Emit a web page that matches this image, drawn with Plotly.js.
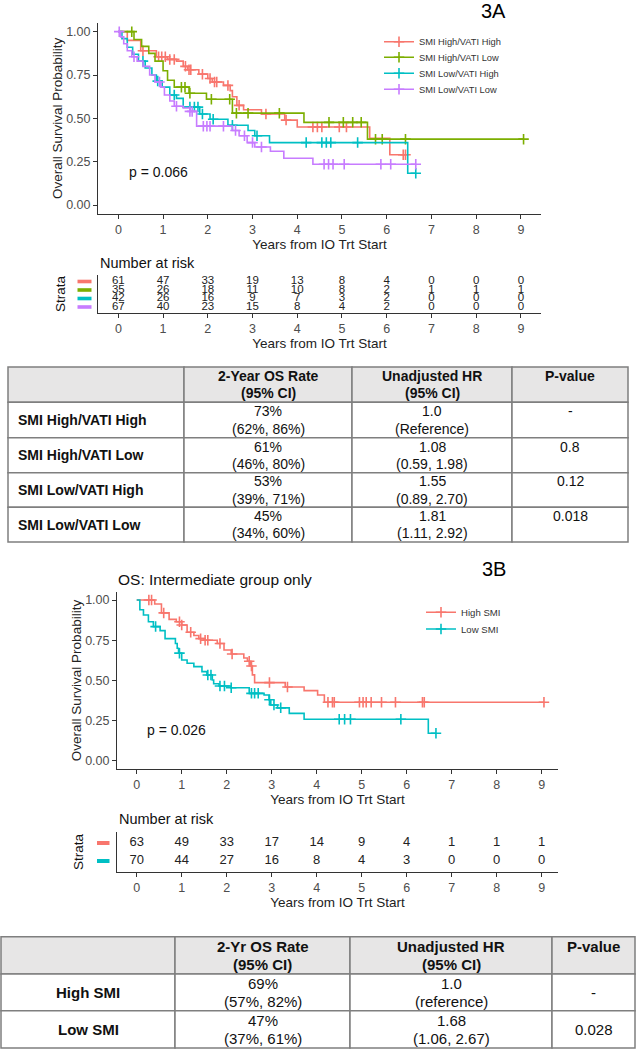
<!DOCTYPE html>
<html><head><meta charset="utf-8">
<script src="https://cdn.plot.ly/plotly-3.0.1.min.js"></script>
<style>html,body{margin:0;padding:0;background:#fff}</style>
</head><body>
<div id="chart" style="width:636px;height:1050px"></div>
<script>
// ---------------- DATA ----------------
// Figure 3A: Kaplan-Meier step curves (time in years, survival after step) + censor times
const groupsA = ['SMI High/VATI High','SMI High/VATI Low','SMI Low/VATI High','SMI Low/VATI Low'];
const colorsA = ['#F8766D','#7CAE00','#00BFC4','#C77CFF'];

const hhTime = [0,0.2,0.5,0.85,1.1,1.3,1.45,1.55,1.8,2.0,2.1,2.35,2.5,2.55,2.65,2.8,3.2,3.72,4.0,5.62,6.07];
const hhSurv = [1,0.95,0.89,0.855,0.84,0.83,0.80,0.78,0.755,0.73,0.71,0.69,0.66,0.625,0.575,0.55,0.525,0.49,0.45,0.385,0.29];
const hhCens = [0.55,0.9,0.97,1.05,1.15,1.25,1.5,1.58,1.62,1.88,2.05,2.15,2.2,2.45,2.7,3.3,3.75,4.35,4.45,4.55,4.94,5.1,6.37,6.42];

const hlTime = [0,0.35,0.52,0.68,0.82,1.0,1.1,1.25,1.58,1.97,2.55,4.15,5.57];
const hlSurv = [1,0.955,0.915,0.875,0.83,0.775,0.72,0.68,0.645,0.61,0.53,0.477,0.38];
const hlCens = [0.3,1.41,1.49,1.6,2.08,2.49,2.64,2.9,3.6,4.71,5.03,5.24,5.43,5.75,5.9,6.42,9.06];

const lhTime = [0,0.08,0.2,0.32,0.45,0.6,0.75,0.85,0.98,1.15,1.3,1.45,1.82,2.05,2.45,2.9,3.05,3.38,6.47];
const lhSurv = [1,0.96,0.91,0.87,0.83,0.79,0.75,0.715,0.68,0.635,0.615,0.565,0.525,0.495,0.46,0.43,0.40,0.36,0.183];
const lhCens = [0.55,0.88,1.25,1.6,1.7,1.78,1.88,2.12,2.55,3.1,4.2,4.55,4.65,4.75,5.35,6.65];

const llTime = [0,0.05,0.12,0.2,0.3,0.42,0.55,0.7,0.82,0.95,1.03,1.15,1.25,1.45,1.6,1.75,2.55,2.7,2.88,3.05,3.4,3.7,4.35];
const llSurv = [1,0.97,0.93,0.89,0.855,0.83,0.80,0.75,0.71,0.68,0.635,0.60,0.57,0.56,0.54,0.455,0.43,0.40,0.36,0.335,0.31,0.27,0.235];
const llCens = [0.02,0.35,0.92,1.3,1.6,1.65,1.9,1.98,2.05,2.35,2.62,2.82,3.0,3.2,4.6,4.7,4.8,5.05,5.87,6.09,6.65];

// Figure 3B
const groupsB = ['High SMI','Low SMI'];
const colorsB = ['#F8766D','#00BFC4'];
const hiTime = [0,0.4,0.55,0.72,0.88,1.0,1.12,1.27,1.38,1.5,1.79,1.94,2.1,2.38,2.46,2.53,2.57,2.62,3.3,3.72,4.02,4.17];
const hiSurv = [1,0.975,0.92,0.88,0.865,0.845,0.80,0.78,0.76,0.75,0.73,0.69,0.665,0.64,0.62,0.59,0.535,0.487,0.46,0.437,0.41,0.365];
const hiCens = [0.27,0.33,0.6,0.95,1.0,1.2,1.42,1.52,1.58,1.85,2.12,2.5,2.55,2.95,3.35,4.25,4.35,4.39,4.95,5.03,5.1,5.21,5.44,5.75,6.35,6.39,9.05];
const loTime = [0,0.07,0.15,0.26,0.37,0.52,0.63,0.86,0.9,0.93,1.0,1.12,1.27,1.45,1.56,1.68,1.71,1.83,2.09,2.5,2.83,2.94,2.98,3.13,3.39,3.72,6.48];
const loSurv = [1,0.94,0.907,0.865,0.835,0.81,0.76,0.73,0.70,0.67,0.627,0.607,0.586,0.555,0.534,0.503,0.48,0.466,0.455,0.42,0.41,0.38,0.348,0.33,0.296,0.259,0.172];
const loCens = [0.42,0.95,1.58,1.65,1.85,1.95,2.1,2.55,2.62,2.7,2.95,3.05,3.2,4.5,4.62,4.75,5.87,6.65];

// p-values
const pA = 'p = 0.066';
const pB = 'p = 0.026';

// Number at risk
const riskTimes = [0,1,2,3,4,5,6,7,8,9];
const riskHH = [61,47,33,19,13,8,4,0,0,0];
const riskHL = [35,26,18,11,10,8,2,1,1,1];
const riskLH = [42,26,16,9,7,3,2,0,0,0];
const riskLL = [67,40,23,15,8,4,2,0,0,0];
const riskHi = [63,49,33,17,14,9,4,1,1,1];
const riskLo = [70,44,27,16,8,4,3,0,0,0];

// Tick labels
const xTicks = [0,1,2,3,4,5,6,7,8,9];
const yTicks = [0,0.25,0.5,0.75,1];
const yTickText = ['0.00','0.25','0.50','0.75','1.00'];

// Table 1
const t1Head = [['2-Year OS Rate','(95% CI)'],['Unadjusted HR','(95% CI)'],['P-value','']];
const t1Rate = ['73%','61%','53%','45%'];
const t1RateCI = ['(62%, 86%)','(46%, 80%)','(39%, 71%)','(34%, 60%)'];
const t1HR = ['1.0','1.08','1.55','1.81'];
const t1HRCI = ['(Reference)','(0.59, 1.98)','(0.89, 2.70)','(1.11, 2.92)'];
const t1P = ['-','0.8','0.12','0.018'];

// Table 2
const t2Head = [['2-Yr OS Rate','(95% CI)'],['Unadjusted HR','(95% CI)'],['P-value','']];
const t2Rate = ['69%','47%'];
const t2RateCI = ['(57%, 82%)','(37%, 61%)'];
const t2HR = ['1.0','1.68'];
const t2HRCI = ['(reference)','(1.06, 2.67)'];
const t2P = ['-','0.028'];

// ---------------- LAYOUT HELPERS ----------------
const W = 636, H = 1050;
const px = v => v / W;
const py = v => 1 - v / H;
const FONT = 'Arial, "Liberation Sans", sans-serif';
const AX = '#333333';

// risk-table geometry (pixel rows of the strata)
const riskA = {top: 275, bottom: 313, row0: 281.5, step: 8.5};
const riskB = {top: 832, bottom: 872, row0: 843, step: 18};
const rangeFor = g => [1 + (g.bottom - g.row0) / g.step, 1 - (g.row0 - g.top) / g.step];

function survAt(times, surv, t) {
  let s = surv[0];
  for (let i = 0; i < times.length; i++) { if (times[i] <= t) s = surv[i]; }
  return s;
}

const traces = [];
function addKM(times, surv, cens, color, name, xa, ya, legendId) {
  const end = Math.max(times[times.length - 1], ...cens);
  traces.push({x: times.concat([end]), y: surv.concat([surv[surv.length - 1]]), type: 'scatter', mode: 'lines',
    line: {color: color, width: 1.6, shape: 'hv'}, xaxis: xa, yaxis: ya, showlegend: false, hoverinfo: 'skip'});
  traces.push({x: cens, y: cens.map(t => survAt(times, surv, t)), type: 'scatter', mode: 'markers',
    marker: {symbol: 'cross-thin', size: 7.5, color: color, line: {width: 1.6, color: color}},
    xaxis: xa, yaxis: ya, showlegend: false, cliponaxis: false, hoverinfo: 'skip'});
  traces.push({x: [null], y: [null], type: 'scatter', mode: 'lines+markers', name: name,
    line: {color: color, width: 1.6}, marker: {symbol: 'cross-thin', size: 7.5, color: color, line: {width: 1.6, color: color}},
    xaxis: xa, yaxis: ya, legend: legendId, showlegend: true});
}

addKM(hhTime, hhSurv, hhCens, colorsA[0], groupsA[0], 'x', 'y', 'legend');
addKM(hlTime, hlSurv, hlCens, colorsA[1], groupsA[1], 'x', 'y', 'legend2');
addKM(lhTime, lhSurv, lhCens, colorsA[2], groupsA[2], 'x', 'y', 'legend3');
addKM(llTime, llSurv, llCens, colorsA[3], groupsA[3], 'x', 'y', 'legend4');
addKM(hiTime, hiSurv, hiCens, colorsB[0], groupsB[0], 'x3', 'y3', 'legend5');
addKM(loTime, loSurv, loCens, colorsB[1], groupsB[1], 'x3', 'y3', 'legend6');

// risk tables
function addRisk(vals, row, xa, ya, size) {
  traces.push({x: riskTimes, y: riskTimes.map(() => row), text: vals.map(String), type: 'scatter', mode: 'text',
    textposition: 'middle center', textfont: {family: FONT, size: size, color: '#222'},
    xaxis: xa, yaxis: ya, showlegend: false, cliponaxis: false, hoverinfo: 'skip'});
}
[riskHH, riskHL, riskLH, riskLL].forEach((v, i) => addRisk(v, i + 1, 'x2', 'y2', 11.5));
[riskHi, riskLo].forEach((v, i) => addRisk(v, i + 1, 'x4', 'y4', 13));

// ---------------- AXES ----------------
function xAxis(d0, d1, range, anchor, title) {
  return {domain: [px(d0), px(d1)], range: range, anchor: anchor, showline: true, linecolor: AX, linewidth: 1,
    ticks: 'outside', ticklen: 4, tickcolor: AX, tickwidth: 1, tickvals: xTicks,
    tickfont: {family: FONT, size: 12.5, color: '#4d4d4d'}, showgrid: false, zeroline: false,
    title: {text: title, font: {family: FONT, size: 13.5, color: '#222'}, standoff: 0}, automargin: false, fixedrange: true};
}
function yAxisKM(top, bottom, anchor) {
  return {domain: [py(bottom), py(top)], range: [-0.05, 1.05], anchor: anchor, showline: true, linecolor: AX, linewidth: 1,
    ticks: 'outside', ticklen: 4, tickcolor: AX, tickwidth: 1, tickvals: yTicks, ticktext: yTickText,
    tickfont: {family: FONT, size: 12.5, color: '#4d4d4d'}, showgrid: false, zeroline: false,
    title: {text: 'Overall Survival Probability', font: {family: FONT, size: 13.5, color: '#222'}, standoff: 0},
    automargin: false, fixedrange: true};
}
function yAxisRisk(g, anchor) {
  return {domain: [py(g.bottom), py(g.top)], range: rangeFor(g), anchor: anchor, showline: true, linecolor: AX, linewidth: 1,
    ticks: '', showticklabels: false, showgrid: false, zeroline: false, automargin: false, fixedrange: true};
}

// ---------------- SHAPES & ANNOTATIONS ----------------
const shapes = [];
const annotations = [];

// strata colour bars (paper coordinates, aligned with risk-table rows)
colorsA.forEach((c, i) => {
  const yc = riskA.row0 + i * riskA.step;
  shapes.push({type: 'rect', xref: 'paper', yref: 'paper', x0: px(77.5), x1: px(91.5), y0: py(yc + 1.8), y1: py(yc - 1.8),
    fillcolor: c, line: {width: 0}});
});
colorsB.forEach((c, i) => {
  const yc = riskB.row0 + i * riskB.step;
  shapes.push({type: 'rect', xref: 'paper', yref: 'paper', x0: px(97), x1: px(109.5), y0: py(yc + 2), y1: py(yc - 2),
    fillcolor: c, line: {width: 0}});
});

function ann(text, x, y, size, opts) {
  annotations.push(Object.assign({text: text, x: px(x), y: py(y), xref: 'paper', yref: 'paper', showarrow: false,
    xanchor: 'center', yanchor: 'middle', font: {family: FONT, size: size, color: '#111'}}, opts || {}));
}

// panel labels
ann('3A', 493, 11, 20, {font: {family: FONT, size: 20, color: '#000'}});
ann('3B', 494, 569, 20, {font: {family: FONT, size: 20, color: '#000'}});
ann('OS: Intermediate group only', 116, 579, 15.5, {xanchor: 'left', font: {family: FONT, size: 15.5, color: '#111'}});

// p-values
annotations.push({text: pA, x: 0.19, y: 0.19, xref: 'x', yref: 'y', xanchor: 'left', yanchor: 'middle', showarrow: false,
  font: {family: FONT, size: 14, color: '#111'}});
annotations.push({text: pB, x: 0.18, y: 0.19, xref: 'x3', yref: 'y3', xanchor: 'left', yanchor: 'middle', showarrow: false,
  font: {family: FONT, size: 14, color: '#111'}});

// risk-table labels
ann('Number at risk', 98, 263, 14.5, {xanchor: 'left'});
ann('Strata', 60, 294, 13.5, {textangle: -90});
ann('Number at risk', 117, 819, 14.5, {xanchor: 'left'});
ann('Strata', 78, 852, 13.5, {textangle: -90});

// tables
function drawTable(cols, rows, head, firstCol, body, p, size, firstAlign, pCentered, lineGap) {
  for (let r = 0; r < rows.length - 1; r++) {
    for (let c = 0; c < cols.length - 1; c++) {
      shapes.push({type: 'rect', xref: 'paper', yref: 'paper', x0: px(cols[c]), x1: px(cols[c + 1]),
        y0: py(rows[r + 1]), y1: py(rows[r]), fillcolor: r === 0 ? '#e7e6e6' : '#ffffff',
        line: {color: '#7f7f7f', width: 1.5}, layer: 'below'});
    }
  }
  const cx = c => (cols[c] + cols[c + 1]) / 2;
  const cy = r => (rows[r] + rows[r + 1]) / 2;
  head.forEach((h, i) => {
    ann('<b>' + h[0] + '</b>', cx(i + 1), cy(0) - lineGap, size);
    if (h[1]) ann('<b>' + h[1] + '</b>', cx(i + 1), cy(0) + lineGap, size);
  });
  firstCol.forEach((g, r) => {
    const yc = cy(r + 1);
    if (firstAlign === 'left') ann('<b>' + g + '</b>', cols[0] + 8, yc, size, {xanchor: 'left'});
    else ann('<b>' + g + '</b>', cx(0), yc, size);
    body.forEach((col, c) => {
      ann(col[0][r], cx(c + 1), yc - lineGap, size);
      ann(col[1][r], cx(c + 1), yc + lineGap, size);
    });
    ann(p[r], cx(3), pCentered ? yc : yc - lineGap, size);
  });
}
drawTable([8, 184, 352, 512, 628], [367, 402.3, 437.7, 472.7, 507.3, 542], t1Head, groupsA,
  [[t1Rate, t1RateCI], [t1HR, t1HRCI]], t1P, 14, 'left', false, 8.6);
drawTable([1, 175, 350, 552, 635], [936.7, 974, 1010.7, 1048], t2Head, groupsB,
  [[t2Rate, t2RateCI], [t2HR, t2HRCI]], t2P, 15, 'center', true, 9);

// legends (one per entry so that each sits at its own row)
function leg(textX, y, size) {
  return {x: px(textX - 40), y: py(y), xanchor: 'left', yanchor: 'middle', bgcolor: 'rgba(0,0,0,0)',
    borderwidth: 0, font: {family: FONT, size: size, color: '#333'}, itemclick: false, itemdoubleclick: false};
}

const layout = {
  width: W, height: H, margin: {l: 0, r: 0, t: 0, b: 0}, paper_bgcolor: '#fff', plot_bgcolor: '#fff',
  showlegend: true, hovermode: false,
  xaxis: xAxis(98, 541, [-0.455, 9.45], 'y', 'Years from IO Trt Start'),
  yaxis: yAxisKM(23, 213.7, 'x'),
  xaxis2: xAxis(98, 541, [-0.455, 9.45], 'y2', 'Years from IO Trt Start'),
  yaxis2: yAxisRisk(riskA, 'x2'),
  xaxis3: xAxis(117, 558, [-0.438, 9.362], 'y3', 'Years from IO Trt Start'),
  yaxis3: yAxisKM(592, 769, 'x3'),
  xaxis4: xAxis(117, 558, [-0.438, 9.362], 'y4', 'Years from IO Trt Start'),
  yaxis4: yAxisRisk(riskB, 'x4'),
  legend: leg(419, 41.7, 9.3),
  legend2: leg(419, 57.3, 9.3),
  legend3: leg(419, 73.3, 9.3),
  legend4: leg(419, 89.3, 9.3),
  legend5: leg(461, 612.3, 9.6),
  legend6: leg(461, 629, 9.6),
  shapes: shapes,
  annotations: annotations
};

Plotly.newPlot('chart', traces, layout, {staticPlot: true, displayModeBar: false});
</script>
</body></html>
